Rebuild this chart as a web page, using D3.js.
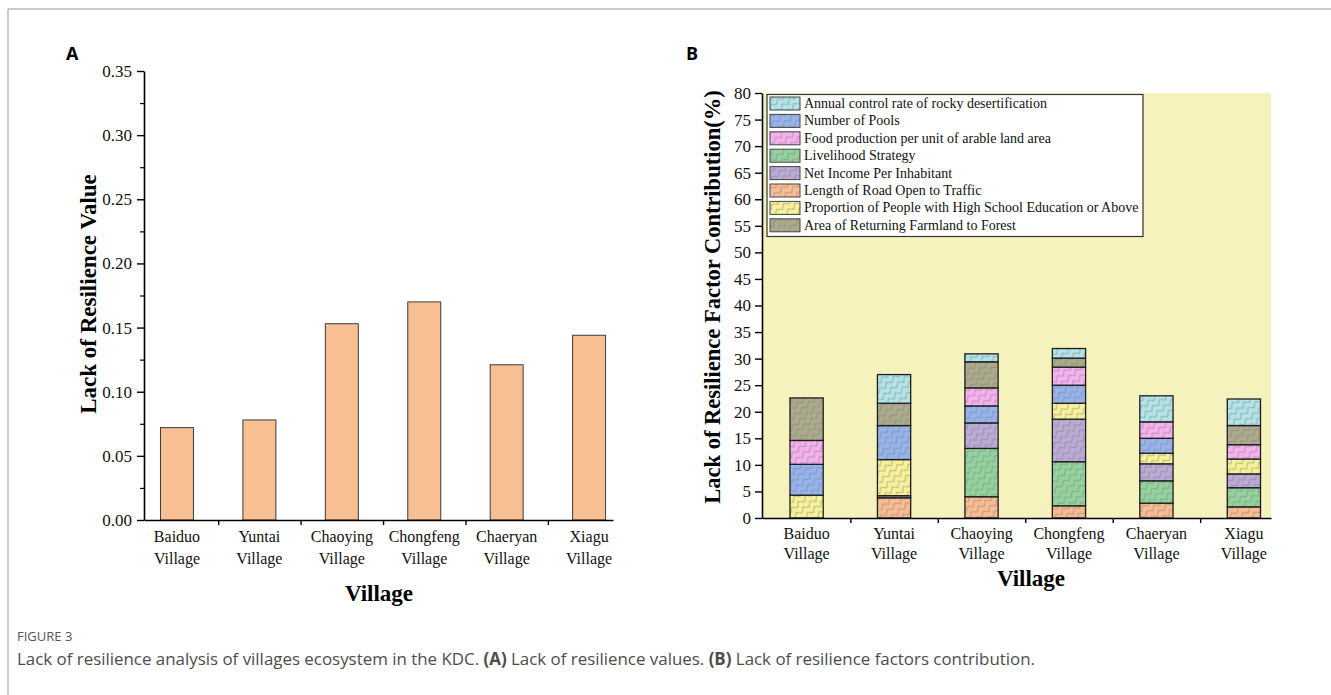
<!DOCTYPE html>
<html>
<head>
<meta charset="utf-8">
<script src="https://cdn.jsdelivr.net/npm/d3@7"></script>
<style>
  body { margin: 0; background: #fff; }
  .serif { font-family: "Liberation Serif", "Times New Roman", serif; }
  .sans { font-family: "Open Sans", "Noto Sans", sans-serif; }
</style>
</head>
<body>
<svg id="fig" width="1331" height="695"></svg>
<script>
// ---- data ----
const villageNames = ["Baiduo", "Yuntai", "Chaoying", "Chongfeng", "Chaeryan", "Xiagu"];
const villageSuffix = "Village";

// Panel A: lack of resilience value per village
const resilienceValues = [0.072, 0.078, 0.153, 0.170, 0.121, 0.144];
const yTicksA = [0.00, 0.05, 0.10, 0.15, 0.20, 0.25, 0.30, 0.35];
const yMinorA = [0.025, 0.075, 0.125, 0.175, 0.225, 0.275, 0.325];

// Panel B: factor contributions (%), stacked bottom -> top in this order
const roadLength      = [0.0, 3.8, 4.0, 2.3, 2.8, 2.1];
const livelihood      = [0.0, 0.0, 9.1, 8.3, 4.2, 3.6];
const netIncome       = [0.0, 0.4, 4.8, 8.0, 3.2, 2.6];
const highSchool      = [4.3, 6.8, 0.0, 3.0, 2.0, 2.8];
const pools           = [5.8, 6.4, 3.2, 3.4, 2.8, 0.0];
const foodProduction  = [4.5, 0.0, 3.4, 3.4, 3.1, 2.7];
const returningForest = [8.0, 4.2, 4.9, 1.7, 0.0, 3.6];
const rockyControl    = [0.0, 5.4, 1.5, 1.8, 4.9, 5.0];
const yTicksB = [0, 5, 10, 15, 20, 25, 30, 35, 40, 45, 50, 55, 60, 65, 70, 75, 80];

// factor key, legend text, fill colour (stack order)
const factorKeys   = ["road", "livelihood", "income", "school", "pools", "food", "forest", "rocky"];
const factorLabels = [
  "Length of Road Open to Traffic",
  "Livelihood Strategy",
  "Net Income Per Inhabitant",
  "Proportion of People with High School Education or Above",
  "Number of Pools",
  "Food production per unit of arable land area",
  "Area of Returning Farmland to Forest",
  "Annual control rate of rocky desertification"
];
const factorColors = ["#f8bb92", "#93d29e", "#b9aad6", "#f6f199", "#96b3ee", "#f5b0ef", "#abaa8d", "#b1e3e8"];
const legendOrder = ["rocky", "pools", "food", "livelihood", "income", "road", "school", "forest"];
const factorSeries = [roadLength, livelihood, netIncome, highSchool, pools, foodProduction, returningForest, rockyControl];

// ---- drawing ----
const svg = d3.select("#fig");
svg.append("rect").attr("width", 1331).attr("height", 695).attr("fill", "#fff");

// frame lines
svg.append("line").attr("x1", 8).attr("x2", 1331).attr("y1", 9).attr("y2", 9).attr("stroke", "#b8b8b8").attr("stroke-width", 1.5);
svg.append("line").attr("x1", 8).attr("x2", 8).attr("y1", 9).attr("y2", 695).attr("stroke", "#b8b8b8").attr("stroke-width", 1.5);

// panel letters
svg.append("text").attr("class", "sans").attr("x", 66).attr("y", 60).attr("font-size", 18).attr("font-weight", 700).text("A");
svg.append("text").attr("class", "sans").attr("x", 686).attr("y", 60).attr("font-size", 18).attr("font-weight", 700).text("B");

// wavy hatch patterns
const defs = svg.append("defs");
factorKeys.forEach((k, i) => {
  const p = defs.append("pattern")
    .attr("id", "pat-" + k)
    .attr("patternUnits", "userSpaceOnUse")
    .attr("width", 9).attr("height", 7)
    .attr("patternTransform", "rotate(-40)");
  p.append("rect").attr("width", 9).attr("height", 7).attr("fill", factorColors[i]);
  p.append("path")
    .attr("d", "M-1,3.5 Q1.25,0 3.5,3.5 T8,3.5 T12.5,3.5")
    .attr("fill", "none").attr("stroke", "#7b7b72").attr("stroke-width", 0.8).attr("opacity", 0.85);
});

function styleAxis(g) {
  g.select(".domain").attr("stroke", "#000").attr("stroke-width", 1.6);
  g.selectAll(".tick line").attr("stroke", "#000").attr("stroke-width", 1.4);
  g.selectAll("text").attr("class", "serif").attr("fill", "#111");
}

// ===== Panel A =====
const xA = d3.scaleLinear().domain([0.6, 6.29]).range([144, 613]);
const yA = d3.scaleLinear().domain([0, 0.35]).range([520, 71]);

const gA = svg.append("g");
gA.selectAll("rect.barA")
  .data(resilienceValues)
  .join("rect")
  .attr("class", "barA")
  .attr("x", (d, i) => xA(i + 1 - 0.2))
  .attr("width", xA(1.2) - xA(0.8))
  .attr("y", d => yA(d))
  .attr("height", d => yA(0) - yA(d))
  .attr("fill", "#f8bf93")
  .attr("stroke", "#3c3c3c").attr("stroke-width", 1);

const axA_y = gA.append("g").attr("transform", `translate(${xA.range()[0]},0)`)
  .call(d3.axisLeft(yA).tickValues(yTicksA).tickFormat(d3.format(".2f")).tickSize(7).tickSizeOuter(0).tickPadding(5));
styleAxis(axA_y);
axA_y.selectAll("text").attr("font-size", 17);
gA.append("g").attr("transform", `translate(${xA.range()[0]},0)`)
  .call(d3.axisLeft(yA).tickValues(yMinorA).tickFormat("").tickSize(4).tickSizeOuter(0))
  .call(g => { g.select(".domain").remove(); g.selectAll("line").attr("stroke", "#000").attr("stroke-width", 1.2); });

const axA_x = gA.append("g").attr("transform", `translate(0,${yA(0)})`)
  .call(d3.axisBottom(xA).tickValues([1.5, 2.5, 3.5, 4.5, 5.5]).tickFormat("").tickSize(5).tickSizeOuter(0));
styleAxis(axA_x);

villageNames.forEach((v, i) => {
  const t = gA.append("text").attr("class", "serif").attr("text-anchor", "middle")
    .attr("x", xA(i + 1)).attr("font-size", 16).attr("fill", "#111");
  t.append("tspan").attr("x", xA(i + 1)).attr("y", 542).text(v);
  t.append("tspan").attr("x", xA(i + 1)).attr("y", 564).text(villageSuffix);
});

gA.append("text").attr("class", "serif").attr("text-anchor", "middle")
  .attr("x", 379).attr("y", 601).attr("font-size", 23).attr("font-weight", 700).text("Village");
gA.append("text").attr("class", "serif").attr("text-anchor", "middle")
  .attr("transform", "translate(96,294) rotate(-90)")
  .attr("font-size", 23).attr("font-weight", 700).text("Lack of Resilience Value");

// ===== Panel B =====
const xB = d3.scaleLinear().domain([0.49, 6.31]).range([762, 1271]);
const yB = d3.scaleLinear().domain([0, 80]).range([518, 93]);

const gB = svg.append("g");
gB.append("rect")
  .attr("x", xB.range()[0]).attr("y", yB(80))
  .attr("width", xB.range()[1] - xB.range()[0]).attr("height", yB(0) - yB(80))
  .attr("fill", "#f6f2bd");

const stackRows = villageNames.map((v, i) => {
  const row = { village: v };
  factorKeys.forEach((k, j) => { row[k] = factorSeries[j][i]; });
  return row;
});
const stacked = d3.stack().keys(factorKeys)(stackRows);
const barHalf = 0.19;

stacked.forEach((layer, li) => {
  gB.selectAll("rect.seg-" + layer.key)
    .data(layer.filter(d => d[1] - d[0] > 0).map(d => ({ d, i: stackRows.indexOf(d.data) })))
    .join("rect")
    .attr("x", e => xB(e.i + 1 - barHalf))
    .attr("width", xB(1 + barHalf) - xB(1 - barHalf))
    .attr("y", e => yB(e.d[1]))
    .attr("height", e => yB(e.d[0]) - yB(e.d[1]))
    .attr("fill", `url(#pat-${layer.key})`)
    .attr("stroke", "#1e1e1e").attr("stroke-width", 1.3);
});

const axB_y = gB.append("g").attr("transform", `translate(${xB.range()[0]},0)`)
  .call(d3.axisLeft(yB).tickValues(yTicksB).tickFormat(d3.format("d")).tickSize(7).tickSizeOuter(0).tickPadding(4));
styleAxis(axB_y);
axB_y.selectAll("text").attr("font-size", 17);

const axB_x = gB.append("g").attr("transform", `translate(0,${yB(0)})`)
  .call(d3.axisBottom(xB).tickValues([1.5, 2.5, 3.5, 4.5, 5.5]).tickFormat("").tickSize(5).tickSizeOuter(0));
styleAxis(axB_x);

villageNames.forEach((v, i) => {
  const t = gB.append("text").attr("class", "serif").attr("text-anchor", "middle")
    .attr("font-size", 16).attr("fill", "#111");
  t.append("tspan").attr("x", xB(i + 1)).attr("y", 539).text(v);
  t.append("tspan").attr("x", xB(i + 1)).attr("y", 559).text(villageSuffix);
});

gB.append("text").attr("class", "serif").attr("text-anchor", "middle")
  .attr("x", 1031).attr("y", 586).attr("font-size", 23).attr("font-weight", 700).text("Village");
gB.append("text").attr("class", "serif").attr("text-anchor", "middle")
  .attr("transform", "translate(720,297) rotate(-90)")
  .attr("font-size", 22.5).attr("font-weight", 700).text("Lack of Resilience Factor Contribution(%)");

// legend
const lg = gB.append("g");
lg.append("rect").attr("x", 767).attr("y", 94.5).attr("width", 376).attr("height", 142)
  .attr("fill", "#fff").attr("stroke", "#333").attr("stroke-width", 1.2);
legendOrder.forEach((k, r) => {
  const j = factorKeys.indexOf(k);
  const cy = 103.5 + r * 17.4;
  lg.append("rect").attr("x", 770).attr("y", cy - 6.5).attr("width", 30).attr("height", 13)
    .attr("fill", `url(#pat-${k})`).attr("stroke", "#444").attr("stroke-width", 1);
  lg.append("text").attr("class", "serif").attr("x", 804).attr("y", cy + 4.5)
    .attr("font-size", 14).attr("fill", "#111").text(factorLabels[j]);
});

// ===== caption =====
svg.append("text").attr("class", "sans").attr("x", 17).attr("y", 641)
  .attr("font-size", 13).attr("fill", "#555").text("FIGURE 3");
const cap = svg.append("text").attr("class", "sans").attr("x", 17).attr("y", 665)
  .attr("font-size", 16.9).attr("fill", "#4d4d4d");
cap.append("tspan").text("Lack of resilience analysis of villages ecosystem in the KDC. ");
cap.append("tspan").attr("font-weight", 700).text("(A)");
cap.append("tspan").text(" Lack of resilience values. ");
cap.append("tspan").attr("font-weight", 700).text("(B)");
cap.append("tspan").text(" Lack of resilience factors contribution.");
</script>
</body>
</html>
